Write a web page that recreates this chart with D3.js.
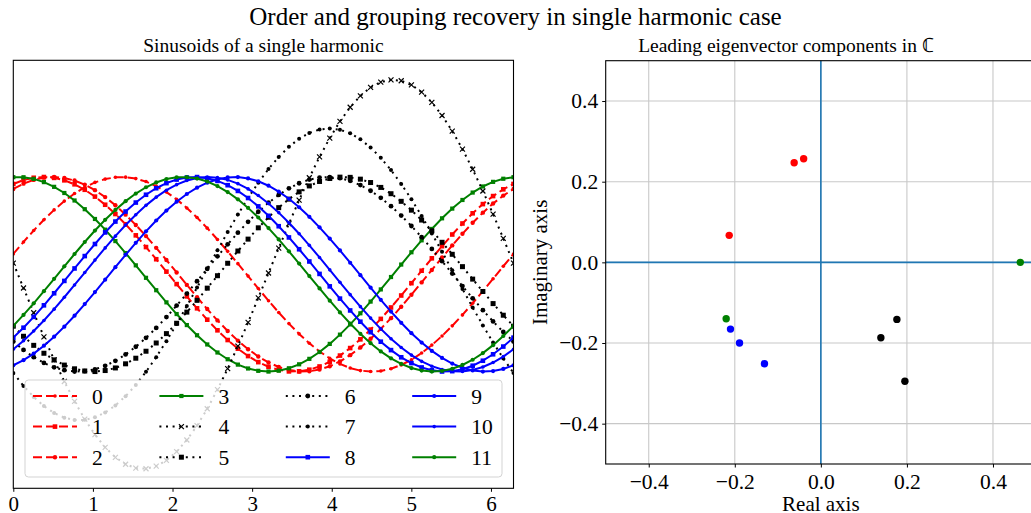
<!DOCTYPE html>
<html><head><meta charset="utf-8">
<script src="https://cdn.jsdelivr.net/npm/d3@7"></script>
<style>body{margin:0;background:#fff} text{font-family:"Liberation Serif","Times New Roman",serif;fill:#000}</style>
</head><body><svg id="chart" width="1031" height="513"></svg>
<script>
// ---- data ----
const seriesLabels = ["0","1","2","3","4","5","6","7","8","9","10","11"];
const seriesColors = ["#ff0000","#ff0000","#ff0000","#008000","#000000","#000000","#000000","#000000","#0000ff","#0000ff","#0000ff","#008000"];
const seriesStyles = ["dashed","dashed","dashed","solid","dotted","dotted","dotted","dotted","solid","solid","solid","solid"];
const seriesMarkers = ["circle","square","circle","square","x","square","circle","circle","square","circle","circle","circle"];
const seriesMarkerSizes = [3.6,4.6,4.4,4.2,5,5,4.8,4,4.6,4.2,3.6,4.2];
// position of each sinusoid's crest on the x axis (radians) and its amplitude
const seriesPeakX = [1.36,0.38,0.50,0.06,4.77,4.15,3.95,3.97,2.28,2.78,2.45,2.13];
const seriesAmplitude = [1,1,1,1,2,1,1,1.5,1,1,1,1];
const sampleCount = 50;
const sinXTicks = [0,1,2,3,4,5,6];

const eigReal = [-0.213,-0.062,-0.040,0.4635,-0.220,-0.210,-0.189,-0.131,0.1395,0.1767,0.1953];
const eigImag = [0.067,0.247,0.257,0.0,-0.140,-0.1655,-0.200,-0.2514,-0.187,-0.1414,-0.295];
const eigColors = ["#ff0000","#ff0000","#ff0000","#008000","#008000","#0000ff","#0000ff","#0000ff","#000000","#000000","#000000"];
const eigTicks = [-0.4,-0.2,0.0,0.2,0.4];

const titleText = "Order and grouping recovery in single harmonic case";
const leftTitle = "Sinusoids of a single harmonic";
const rightTitle = "Leading eigenvector components in \u2102";

// ---- drawing ----
const svg = d3.select("#chart");
svg.append("rect").attr("width",1031).attr("height",513).attr("fill","#fff");
const fmtTick = v => (v<0?"\u2212":"") + Math.abs(v).toFixed(1);

svg.append("text").attr("x",515.5).attr("y",25).attr("text-anchor","middle")
  .style("font-size","25px").text(titleText);

// Left panel
const L = {x0:13.3, x1:513.5, y0:60.3, y1:488.3};
const xL = d3.scaleLinear().domain([0, 2*Math.PI]).range([L.x0, L.x1]);
const yL = d3.scaleLinear().domain([-2.2, 2.2]).range([L.y1, L.y0]);
svg.append("text").attr("x",(L.x0+L.x1)/2).attr("y",51.5).attr("text-anchor","middle")
  .style("font-size","19.5px").text(leftTitle);

svg.append("clipPath").attr("id","clipL").append("rect")
  .attr("x",L.x0).attr("y",L.y0).attr("width",L.x1-L.x0).attr("height",L.y1-L.y0);

const samples = d3.range(sampleCount).map(i => i*2*Math.PI/(sampleCount-1));
const dashOf = s => s==="dashed" ? "9,4" : (s==="dotted" ? "2,4.6" : null);

function drawMarker(g, type, size, cx, cy, color){
  if(type==="circle"){
    g.append("circle").attr("cx",cx).attr("cy",cy).attr("r",size/2).attr("fill",color);
  } else if(type==="square"){
    g.append("rect").attr("x",cx-size/2).attr("y",cy-size/2).attr("width",size).attr("height",size).attr("fill",color);
  } else {
    const h=size/2;
    g.append("path").attr("d",`M${cx-h},${cy-h}L${cx+h},${cy+h}M${cx-h},${cy+h}L${cx+h},${cy-h}`)
      .attr("stroke",color).attr("stroke-width",1.2).attr("fill","none");
  }
}

const plotL = svg.append("g").attr("clip-path","url(#clipL)");
seriesLabels.forEach((lab,k)=>{
  const pts = samples.map(t => [t, seriesAmplitude[k]*Math.cos(t - seriesPeakX[k])]);
  const line = d3.line().x(d=>xL(d[0])).y(d=>yL(d[1]));
  plotL.append("path").attr("d",line(pts)).attr("fill","none")
    .attr("stroke",seriesColors[k]).attr("stroke-width",2)
    .attr("stroke-dasharray",dashOf(seriesStyles[k]));
  const mg = plotL.append("g");
  pts.forEach(p => drawMarker(mg, seriesMarkers[k], seriesMarkerSizes[k], xL(p[0]), yL(p[1]), seriesColors[k]));
});

// Legend
const leg = svg.append("g");
leg.append("rect").attr("x",25).attr("y",380).attr("width",477).attr("height",97).attr("rx",3.5)
  .attr("fill","#fff").attr("fill-opacity",0.8).attr("stroke","#d3d3d3").attr("stroke-width",1);
seriesLabels.forEach((lab,k)=>{
  const col = Math.floor(k/3), row = k%3;
  const x0 = 33 + col*126.4, y = 396 + row*30.6;
  leg.append("line").attr("x1",x0).attr("x2",x0+44).attr("y1",y).attr("y2",y)
    .attr("stroke",seriesColors[k]).attr("stroke-width",2)
    .attr("stroke-dasharray",dashOf(seriesStyles[k]));
  drawMarker(leg, seriesMarkers[k], seriesMarkerSizes[k], x0+22, y, seriesColors[k]);
  leg.append("text").attr("x",x0+59).attr("y",y+7.8).style("font-size","21.5px").text(lab);
});

// left axes frame and ticks
svg.append("rect").attr("x",L.x0).attr("y",L.y0).attr("width",L.x1-L.x0).attr("height",L.y1-L.y0)
  .attr("fill","none").attr("stroke","#000").attr("stroke-width",1.1);
const axL = svg.append("g").attr("transform",`translate(0,${L.y1})`)
  .call(d3.axisBottom(xL).tickValues(sinXTicks).tickFormat(d3.format("d")).tickSize(3.5).tickPadding(4).tickSizeOuter(0));
axL.select(".domain").remove();
axL.selectAll("text").style("font-size","21px").style("font-family","Liberation Serif");
axL.selectAll("line").attr("stroke-width",1);

// Right panel
const R = {x0:605.7, x1:1036, y0:60.7, y1:464};
const xR = d3.scaleLinear().domain([-0.5,0.5]).range([R.x0,R.x1]);
const yR = d3.scaleLinear().domain([-0.5,0.5]).range([R.y1,R.y0]);
svg.append("text").attr("x",786).attr("y",51.5).attr("text-anchor","middle")
  .style("font-size","19.5px").text(rightTitle);

const gridG = svg.append("g");
eigTicks.forEach(v=>{
  gridG.append("line").attr("x1",xR(v)).attr("x2",xR(v)).attr("y1",R.y0).attr("y2",R.y1)
    .attr("stroke","#c8c8c8").attr("stroke-width",1.1);
  gridG.append("line").attr("y1",yR(v)).attr("y2",yR(v)).attr("x1",R.x0).attr("x2",R.x1)
    .attr("stroke","#c8c8c8").attr("stroke-width",1.1);
});
svg.append("line").attr("x1",R.x0).attr("x2",R.x1).attr("y1",yR(0)).attr("y2",yR(0))
  .attr("stroke","#1f77b4").attr("stroke-width",1.6);
svg.append("line").attr("x1",xR(0)).attr("x2",xR(0)).attr("y1",R.y0).attr("y2",R.y1)
  .attr("stroke","#1f77b4").attr("stroke-width",1.6);

svg.append("g").selectAll("circle").data(eigReal).join("circle")
  .attr("cx",d=>xR(d)).attr("cy",(d,i)=>yR(eigImag[i])).attr("r",3.7)
  .attr("fill",(d,i)=>eigColors[i]);

svg.append("rect").attr("x",R.x0).attr("y",R.y0).attr("width",R.x1-R.x0).attr("height",R.y1-R.y0)
  .attr("fill","none").attr("stroke","#000").attr("stroke-width",1.1);
const axRx = svg.append("g").attr("transform",`translate(0,${R.y1})`)
  .call(d3.axisBottom(xR).tickValues(eigTicks).tickFormat(fmtTick).tickSize(3.5).tickPadding(6).tickSizeOuter(0));
const axRy = svg.append("g").attr("transform",`translate(${R.x0},0)`)
  .call(d3.axisLeft(yR).tickValues(eigTicks).tickFormat(fmtTick).tickSize(3.5).tickPadding(4).tickSizeOuter(0));
[axRx,axRy].forEach(a=>{a.select(".domain").remove();
  a.selectAll("text").style("font-size","21.5px").style("font-family","Liberation Serif");
  a.selectAll("line").attr("stroke-width",1);});

svg.append("text").attr("x",xR(0)).attr("y",510.5).attr("text-anchor","middle")
  .style("font-size","21px").text("Real axis");
svg.append("text").attr("transform",`translate(547,${(R.y0+R.y1)/2}) rotate(-90)`)
  .attr("text-anchor","middle").style("font-size","21px").text("Imaginary axis");
</script></body></html>
